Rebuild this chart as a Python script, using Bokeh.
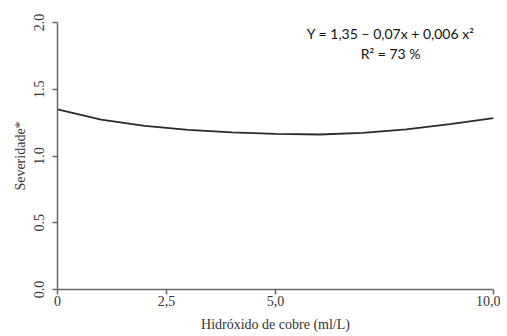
import math
from bokeh.plotting import figure
from bokeh.models import FixedTicker, Range1d, Label, ColumnDataSource
from bokeh.embed import file_html
from bokeh.resources import INLINE

# Data
dose = [0, 1, 2, 3, 4, 5, 6, 7, 8, 9, 10]
severidade = [1.350, 1.272, 1.225, 1.195, 1.177, 1.166, 1.161, 1.173, 1.200, 1.238, 1.284]

x_ticks = [0, 2.5, 5.0, 10.0]
x_tick_labels = ["0", "2,5", "5,0", "10,0"]
y_ticks = [0.0, 0.5, 1.0, 1.5, 2.0]
y_tick_labels = ["0.0", "0.5", "1.0", "1.5", "2.0"]

equation = "Y = 1,35 \u2013 0,07x + 0,006 x\u00b2"
r2_text = "R\u00b2 = 73 %"

SERIF = "Liberation Serif"
AXIS_COLOR = "#666666"

p = figure(width=500, height=334, output_backend="svg", toolbar_location=None,
           x_range=Range1d(0, 10), y_range=Range1d(0, 2),
           min_border_left=57, min_border_right=7, min_border_top=22, min_border_bottom=43)
p.outline_line_color = None
p.xgrid.visible = False
p.ygrid.visible = False
p.background_fill_color = "white"
p.border_fill_color = "white"

src = ColumnDataSource(dict(x=dose, y=severidade))
p.line("x", "y", source=src, line_color="#2a2a2a", line_width=1.8)

xa = p.xaxis[0]
xa.ticker = FixedTicker(ticks=x_ticks)
xa.major_label_overrides = {t: l for t, l in zip(x_ticks, x_tick_labels)}
xa.axis_label = "Hidróxido de cobre (ml/L)"
ya = p.yaxis[0]
ya.ticker = FixedTicker(ticks=y_ticks)
ya.major_label_overrides = {t: l for t, l in zip(y_ticks, y_tick_labels)}
ya.axis_label = "Severidade*"
ya.major_label_orientation = "parallel"

for ax in (xa, ya):
    ax.axis_line_color = AXIS_COLOR
    ax.axis_line_width = 1.5
    ax.major_tick_line_color = AXIS_COLOR
    ax.major_tick_line_width = 1.5
    ax.major_tick_out = 5
    ax.major_tick_in = 0
    ax.minor_tick_line_color = None
    ax.major_label_text_font = SERIF
    ax.major_label_text_font_size = "14px"
    ax.major_label_text_color = "#333333"
    ax.axis_label_text_font = SERIF
    ax.axis_label_text_font_size = "14px"
    ax.axis_label_text_font_style = "normal"
    ax.axis_label_text_color = "#333333"

xa.major_label_standoff = 1
xa.axis_label_standoff = 8
ya.major_label_standoff = 9
ya.axis_label_standoff = 3

p.add_layout(Label(x=7.64, y=1.918, text=equation, text_align="center", text_baseline="middle",
                   text_font="Lato", text_font_size="14px", text_color="#111111"))
p.add_layout(Label(x=7.64, y=1.77, text=r2_text, text_align="center", text_baseline="middle",
                   text_font="Lato", text_font_size="14px", text_color="#111111"))

open("out.html", "w").write(file_html(p, INLINE))
